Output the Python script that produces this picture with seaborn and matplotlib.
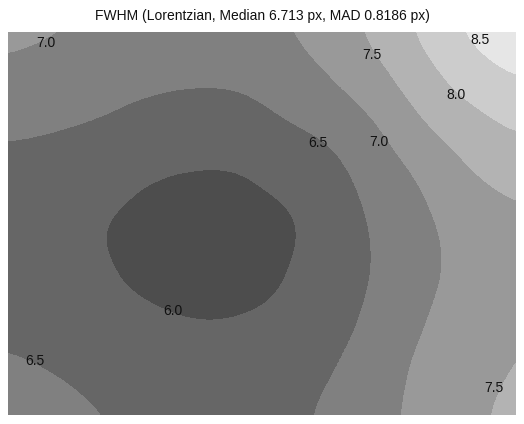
import numpy as np
import matplotlib
matplotlib.use("Agg")
import matplotlib.pyplot as plt
from matplotlib.colors import ListedColormap, BoundaryNorm
import seaborn as sns

# FWHM map values (px) on a coarse grid: rows top -> bottom, columns left -> right,
# nodes spread evenly from edge to edge of the map
row_0 = [7.10, 7.02, 6.93, 6.88, 6.85, 6.87, 6.96, 7.25, 7.62, 8.09, 8.56, 8.80]
row_1 = [6.86, 6.78, 6.69, 6.60, 6.55, 6.57, 6.73, 6.99, 7.35, 7.80, 8.22, 8.48]
row_2 = [6.56, 6.52, 6.45, 6.33, 6.26, 6.28, 6.45, 6.62, 6.98, 7.45, 7.78, 8.04]
row_3 = [6.38, 6.33, 6.21, 6.04, 5.97, 5.98, 6.15, 6.35, 6.72, 7.08, 7.46, 7.66]
row_4 = [6.31, 6.19, 6.02, 5.88, 5.82, 5.82, 5.93, 6.23, 6.57, 6.92, 7.20, 7.40]
row_5 = [6.31, 6.17, 6.05, 5.90, 5.82, 5.84, 5.98, 6.25, 6.54, 6.88, 7.17, 7.38]
row_6 = [6.40, 6.30, 6.18, 6.07, 6.00, 6.01, 6.10, 6.32, 6.63, 6.98, 7.25, 7.44]
row_7 = [6.55, 6.48, 6.36, 6.22, 6.17, 6.18, 6.28, 6.47, 6.77, 7.10, 7.30, 7.52]
row_8 = [6.72, 6.62, 6.51, 6.38, 6.30, 6.30, 6.38, 6.59, 6.87, 7.13, 7.39, 7.62]

levels = [6.0, 6.5, 7.0, 7.5, 8.0, 8.5]
band_greys = ["#4d4d4d", "#666666", "#808080", "#999999", "#b3b3b3", "#cccccc", "#e6e6e6"]

# contour label annotations: (text, x, y) in map pixel coordinates
label_text = ["7.0", "7.5", "8.5", "8.0", "6.5", "7.0", "6.0", "6.5", "7.5"]
label_x = [38, 364, 472, 448, 310, 371, 165, 27, 486]
label_y = [11, 23, 8, 63, 111, 110, 279, 329, 356]

title = "FWHM (Lorentzian, Median 6.713 px, MAD 0.8186 px)"

grid = np.array([row_0, row_1, row_2, row_3, row_4, row_5, row_6, row_7, row_8])

sns.set_theme(style="white")
plt.rcParams["font.family"] = ["Liberation Sans", "DejaVu Sans"]

W, H = 524, 424
MW, MH = 508, 383
fig = plt.figure(figsize=(W / 100, H / 100), dpi=100)
ax = fig.add_axes([8 / W, (H - 415) / H, MW / W, MH / H])

nr, nc = grid.shape
dx = MW / (nc - 1)
dy = MH / (nr - 1)
bounds = [0.0] + levels + [20.0]
cmap = ListedColormap(band_greys)
norm = BoundaryNorm(bounds, cmap.N)
ax.imshow(grid, cmap=cmap, norm=norm, interpolation="mitchell",
          interpolation_stage="data",
          extent=(-dx / 2, MW + dx / 2, MH + dy / 2, -dy / 2), aspect="auto")
ax.set_xlim(0, MW)
ax.set_ylim(MH, 0)
ax.set_axis_off()

for t, x, y in zip(label_text, label_x, label_y):
    ax.text(x, y, t, ha="center", va="center", fontsize=10, color="#111111")

fig.text(0.5, 1 - 16 / H, title, ha="center", va="center", fontsize=10, color="#111111")

fig.savefig("out.png", dpi=100)
